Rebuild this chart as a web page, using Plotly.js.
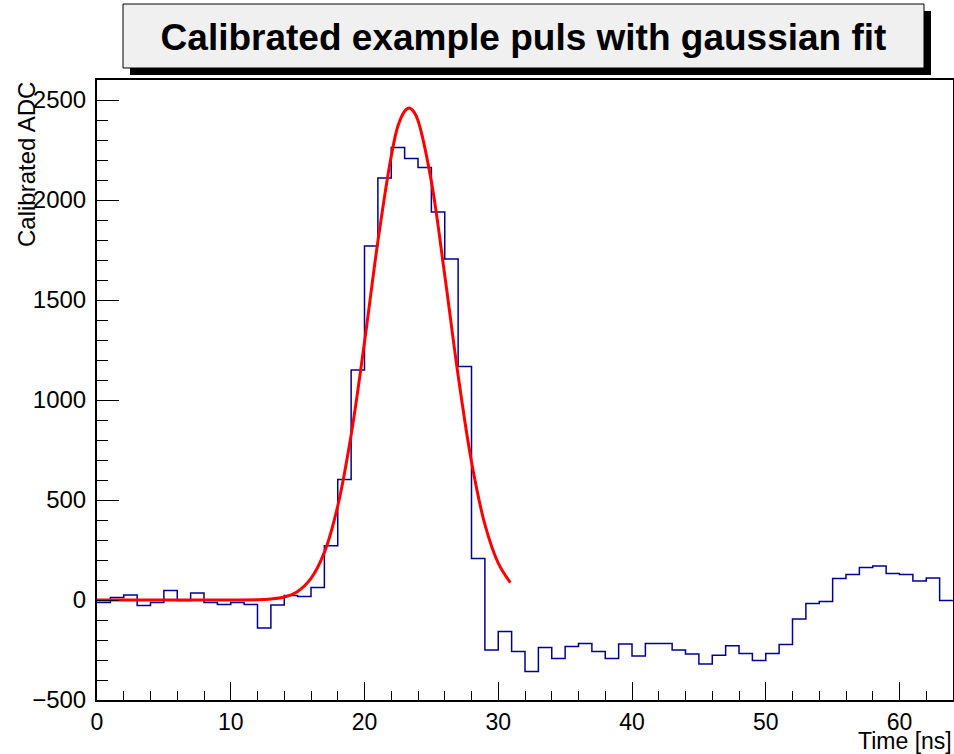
<!DOCTYPE html>
<html>
<head>
<meta charset="utf-8">
<script src="https://cdn.plot.ly/plotly-3.0.1.min.js"></script>
<style>html,body{margin:0;padding:0;background:#fff;}#chart{width:954px;height:754px;}</style>
</head>
<body>
<div id="chart"></div>
<script>
// Histogram: 64 bins of 1 ns starting at 0 ns
const binStart = 0;
const binWidth = 1;
const adcValues = [
  -13, 12, 25, -27, -13, 47, -2, 35, -13, -22,
  -13, -22, -140, -25, 23, 18, 63, 271, 603, 1150,
  1770, 2110, 2262, 2207, 2162, 1940, 1705, 1167, 208, -250,
  -157, -258, -358, -237, -293, -232, -218, -258, -293, -220,
  -280, -218, -218, -250, -270, -320, -276, -229, -267, -303,
  -268, -223, -95, -17, -7, 108, 127, 162, 170, 133,
  128, 95, 110, -3
];

// Gaussian fit curve
const fitTime = [0, 10, 12, 13, 14, 15, 16, 17, 18, 19, 20, 21, 22, 22.5, 23, 23.33, 23.7, 24, 25, 26, 27, 28, 29, 30, 30.9];
const fitADC  = [0, 0, 1, 5, 15, 43, 108, 238, 470, 825, 1289, 1793, 2219, 2370, 2444, 2460, 2440, 2397, 2092, 1624, 1123, 691, 378, 184, 87];

const xTickVals = [0, 10, 20, 30, 40, 50, 60];
const yTickVals = [-500, 0, 500, 1000, 1500, 2000, 2500];

// step outline from bin edges
const edges = [];
for (let i = 0; i <= adcValues.length; i++) edges.push(binStart + i * binWidth);
const stepY = adcValues.concat([adcValues[adcValues.length - 1]]);

const traces = [
  {
    x: edges, y: stepY, type: 'scatter', mode: 'lines',
    line: {shape: 'hv', color: '#000099', width: 1.5},
    hoverinfo: 'skip'
  },
  {
    x: fitTime, y: fitADC, type: 'scatter', mode: 'lines',
    line: {shape: 'spline', smoothing: 1, color: '#ff0000', width: 3},
    hoverinfo: 'skip'
  }
];

const W = 856, H = 620; // plot area
const px = v => (v - 97) / W;
const py = v => (700 - v) / H;
const FONT = 'Liberation Sans, Arial, sans-serif';

const layout = {
  width: 954, height: 754,
  margin: {l: 97, r: 1, t: 80, b: 54, pad: 0},
  paper_bgcolor: '#ffffff', plot_bgcolor: '#ffffff',
  showlegend: false,
  font: {family: FONT, color: '#000', size: 24},
  title: {
    text: 'Calibrated example puls with gaussian fit',
    font: {family: FONT, size: 37, weight: 'bold', color: '#000'},
    x: 523.5 / 954, xanchor: 'center', xref: 'container',
    y: 1 - 37 / 754, yanchor: 'middle', yref: 'container'
  },
  xaxis: {
    range: [0, 64], tickvals: xTickVals, ticktext: xTickVals.map(String),
    ticks: 'inside', ticklen: 18, tickwidth: 1, tickcolor: '#000',
    minor: {dtick: 2, ticks: 'inside', ticklen: 9, tickwidth: 1, tickcolor: '#000', showgrid: false},
    showgrid: false, zeroline: false,
    showline: true, linecolor: '#000', linewidth: 2, mirror: true,
    tickfont: {size: 23}, ticklabelstandoff: 0
  },
  yaxis: {
    range: [-500, 2600], tickvals: yTickVals,
    ticktext: yTickVals.map(v => v < 0 ? '\u2212' + Math.abs(v) : String(v)),
    ticks: 'inside', ticklen: 22, tickwidth: 1, tickcolor: '#000',
    minor: {dtick: 100, ticks: 'inside', ticklen: 11, tickwidth: 1, tickcolor: '#000', showgrid: false},
    showgrid: false, zeroline: false,
    showline: true, linecolor: '#000', linewidth: 2, mirror: true,
    tickfont: {size: 24}, ticklabelstandoff: 4
  },
  shapes: [
    {type: 'rect', xref: 'paper', yref: 'paper', x0: px(130), x1: px(931), y0: py(75), y1: py(11),
     fillcolor: '#000', line: {width: 0}, layer: 'above'},
    {type: 'rect', xref: 'paper', yref: 'paper', x0: px(123), x1: px(924), y0: py(68), y1: py(4),
     fillcolor: '#f0f0f0', line: {color: '#000', width: 1}, layer: 'above'}
  ],
  annotations: [
    {text: 'Calibrated ADC', xref: 'paper', yref: 'paper', x: px(26), y: py(165),
     xanchor: 'center', yanchor: 'middle', textangle: -90, showarrow: false,
     font: {size: 24, family: FONT, color: '#000'}},
    {text: 'Time [ns]', xref: 'paper', yref: 'paper', x: 1, y: py(755),
     xanchor: 'right', yanchor: 'bottom', showarrow: false, borderpad: 0,
     font: {size: 23, family: FONT, color: '#000'}}
  ]
};

Plotly.newPlot('chart', traces, layout, {displayModeBar: false, staticPlot: true});
</script>
</body>
</html>
